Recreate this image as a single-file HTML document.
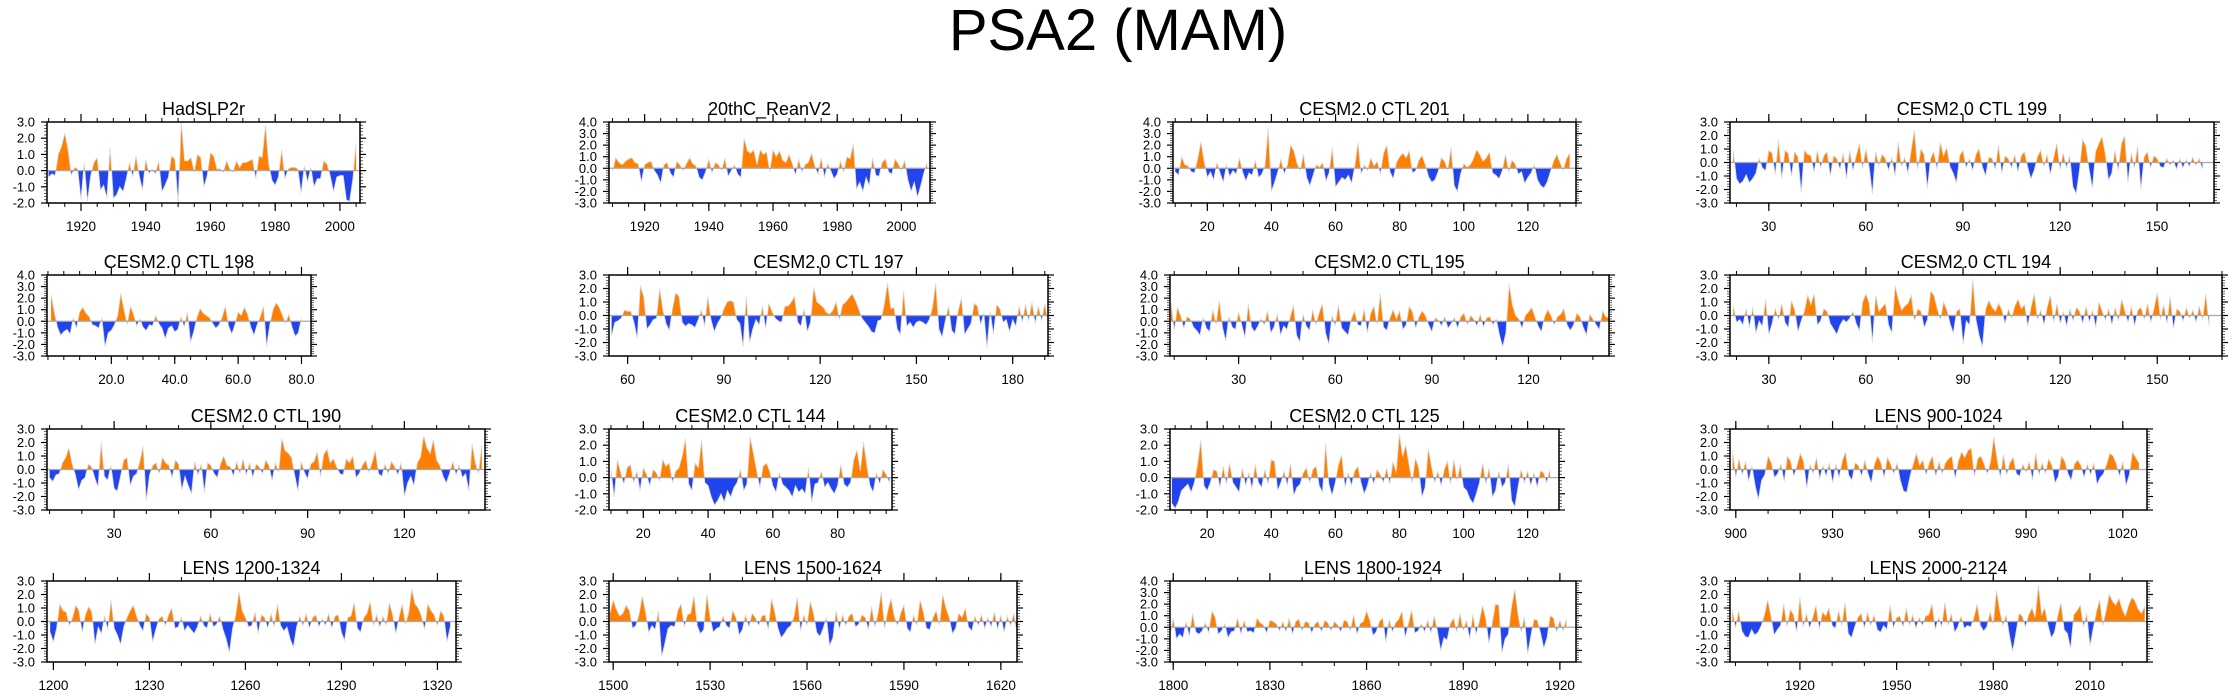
<!DOCTYPE html>
<html><head><meta charset="utf-8">
<style>
html,body{margin:0;padding:0;background:#fff;}
svg{display:block;font-family:"Liberation Sans",Arial,sans-serif;}
</style></head>
<body>
<svg id="chart" width="2237" height="698" viewBox="0 0 2237 698" xmlns="http://www.w3.org/2000/svg">
<text x="1118" y="50" font-size="58" text-anchor="middle" fill="#000">PSA2 (MAM)</text>
</svg>
<script>
// ---- data ----
const panelTitles = ["HadSLP2r","20thC_ReanV2","CESM2.0 CTL 201","CESM2.0 CTL 199","CESM2.0 CTL 198","CESM2.0 CTL 197","CESM2.0 CTL 195","CESM2.0 CTL 194","CESM2.0 CTL 190","CESM2.0 CTL 144","CESM2.0 CTL 125","LENS 900-1024","LENS 1200-1324","LENS 1500-1624","LENS 1800-1924","LENS 2000-2124"];
const startYears = [1910,1910,10,19,1,55,9,19,10,10,9,899,1199,1499,1799,1899];
const xMins = [1909.5,1908.9,9.3,18,-0.3,54.2,8.7,18,9.2,9.4,8.4,898.2,1198,1498.7,1799,1898.3];
const xMaxs = [2006.2,2008.9,135,167.6,83,191,145,170,145,96.8,129.8,1027.5,1325.8,1625,1925,2027.7];
const yMins = [-2,-3,-3,-3,-3,-3,-3,-3,-3,-2,-2,-3,-3,-3,-3,-3];
const yMaxs = [3,4,4,3,4,3,4,3,3,3,3,3,3,3,4,3];
const xTickValues = [
 [1920,1940,1960,1980,2000],[1920,1940,1960,1980,2000],[20,40,60,80,100,120],[30,60,90,120,150],
 [20,40,60,80],[60,90,120,150,180],[30,60,90,120],[30,60,90,120,150],
 [30,60,90,120],[20,40,60,80],[20,40,60,80,100,120],[900,930,960,990,1020],
 [1200,1230,1260,1290,1320],[1500,1530,1560,1590,1620],[1800,1830,1860,1890,1920],[1920,1950,1980,2010]];
const xTickLabels = [
 ["1920","1940","1960","1980","2000"],["1920","1940","1960","1980","2000"],["20","40","60","80","100","120"],["30","60","90","120","150"],
 ["20.0","40.0","60.0","80.0"],["60","90","120","150","180"],["30","60","90","120"],["30","60","90","120","150"],
 ["30","60","90","120"],["20","40","60","80"],["20","40","60","80","100","120"],["900","930","960","990","1020"],
 ["1200","1230","1260","1290","1320"],["1500","1530","1560","1590","1620"],["1800","1830","1860","1890","1920"],["1920","1950","1980","2010"]];
const xMinorSteps = [5,5,5,10,5,10,10,10,10,5,5,10,10,10,10,10];

const v0 = [-0.4,-0.2,-0.3,1.0,1.5,2.3,1.3,-0.3,0.2,0.1,-1.8,0.5,-1.9,-0.3,0.5,0.8,-1.2,-0.9,-1.7,1.4,-1.7,-1.5,-1.0,-1.3,-0.5,0.5,-0.4,0.9,-0.3,-1.2,0.7,-0.2,0.1,-0.2,0.6,-1.3,-0.9,-0.4,0.9,0.7,-2.0,3.0,0.6,0.6,0.8,-0.1,1.0,0.8,-1.0,-0.3,1.1,0.9,0.1,0.1,-0.1,0.6,0.1,-0.1,0.6,0.2,0.5,0.5,0.6,0.7,-0.5,0.9,0.8,2.8,0.4,-0.6,-0.9,-0.4,1.3,-0.5,0.1,0.2,0.2,0.1,-1.4,0.3,-0.7,0.2,-1.0,-0.5,-0.5,0.6,0.4,-0.3,-1.3,-0.4,-0.3,-0.3,-1.8,-1.9,-0.5,1.7];
const v1 = [-0.3,0.9,0.5,0.3,0.6,0.8,0.9,0.5,0.4,-1.2,0.3,0.5,0.6,-0.2,-0.6,-1.3,0.3,0.5,-0.4,-0.8,0.6,0.3,-0.2,0.4,0.9,0.4,0.2,-0.8,-1.0,-0.3,0.8,-0.4,0.5,0.3,-0.2,0.9,-0.7,-0.2,0.3,-0.5,-0.8,2.6,1.5,1.3,1.6,0.3,1.6,1.2,1.4,-0.3,1.6,1.0,1.5,0.7,0.5,1.2,0.4,-0.6,0.8,-0.3,0.3,0.5,1.3,0.2,-0.5,0.9,-0.8,0.4,-0.2,-0.9,-0.5,0.6,-0.3,1.0,0.8,2.1,-1.8,-1.2,-2.0,-0.8,-1.5,0.9,-0.6,-0.7,0.5,0.8,-0.3,-0.5,0.8,0.4,-0.2,0.7,-1.0,-2.0,-1.2,-2.5,-1.5,-0.4,0.5];
const v2 = [-0.3,-0.6,1.0,0.3,0.2,-0.3,-0.4,0.8,2.3,0.6,-0.8,-0.3,-1.0,0.5,-0.4,-1.2,0.3,-0.7,-0.2,-0.5,0.9,-0.3,-1.1,-0.4,-0.6,0.7,-0.8,-0.5,0.2,3.5,-2.0,-1.2,-0.3,0.8,-0.5,0.3,2.0,1.5,0.4,-0.2,1.2,-0.8,-1.5,-0.6,0.3,0.1,0.5,-1.1,-0.4,1.8,-1.6,-1.2,-0.8,-1.0,-0.6,-1.3,0.2,2.2,-0.5,0.3,-0.2,0.9,0.2,0.6,-0.5,1.3,2.0,-0.3,-0.9,0.5,1.0,1.3,0.9,1.5,-0.4,-0.2,0.7,1.1,0.3,-0.7,-1.2,-1.0,-0.3,0.9,0.6,-0.2,1.8,-1.5,-2.0,-0.5,0.4,0.1,0.3,0.8,1.6,1.2,0.6,0.9,1.4,-0.4,-0.6,-0.9,-0.2,1.2,-0.3,0.7,0.4,-0.5,-0.3,-1.3,-0.8,-0.4,0.3,-1.0,-1.5,-1.7,-1.2,-0.3,0.6,1.2,0.5,-0.2,0.8,1.3];
const v3 = [0.9,-1.2,-1.6,-1.4,-0.9,-1.5,-1.2,-0.8,0.3,-0.4,-0.6,0.9,0.7,-0.9,1.7,-1.2,0.9,0.7,-1.0,0.8,0.4,-2.2,0.9,0.6,0.5,-0.7,0.9,-0.4,0.5,0.8,-1.0,0.5,0.3,-0.5,0.7,-1.2,0.9,-0.6,0.5,1.4,-0.4,1.0,-0.3,-2.3,0.8,-0.2,0.6,0.3,-0.6,0.4,-1.0,1.5,-0.3,0.4,-0.8,0.9,2.4,-0.5,1.0,0.6,-1.9,0.3,0.8,-0.5,1.5,0.5,1.1,-0.3,-0.8,-1.5,0.5,0.9,-0.4,0.3,-0.6,0.6,1.0,-0.3,-1.0,0.4,0.3,-0.5,1.3,-0.8,0.5,0.3,-0.4,0.6,-0.7,0.5,0.8,-0.3,-1.2,-0.6,0.4,0.9,-0.3,0.6,-0.9,0.3,1.4,-0.5,0.7,-0.4,0.5,-1.8,-2.3,-0.6,1.7,1.2,-0.5,-1.9,0.8,1.4,1.9,0.6,-1.3,-0.8,0.9,-0.6,1.4,2.0,-1.5,0.7,-0.4,1.2,-2.0,0.4,0.8,-0.4,0.5,0.3,-0.3,-0.4,0.3,-0.2,0.2,-0.5,0.3,-0.4,0.2,-0.3,0.4,-0.2,0.3,-0.5];
const v4 = [2.3,0.8,-0.5,-1.2,-0.9,-0.7,-1.1,0.3,-0.6,0.8,1.2,0.7,0.4,-0.3,-0.4,-0.6,0.3,-2.2,-1.0,-0.8,-0.3,0.5,2.4,1.0,-0.3,1.3,0.6,-0.4,0.2,-0.5,-0.8,-0.3,-0.4,0.5,-0.2,-0.6,-1.5,-0.6,-0.4,-0.9,-0.7,0.4,-0.5,0.8,-1.8,-0.9,0.3,1.1,0.7,0.5,0.3,-0.2,-0.6,-0.3,0.4,1.3,-0.4,-1.1,-0.3,0.8,0.5,1.2,0.6,-0.5,-1.2,-0.3,0.4,1.3,-2.2,-0.3,1.0,1.6,1.2,0.5,-0.2,0.6,-0.5,-1.3,-1.0,0.3];
const v5 = [-1.5,-0.5,-0.4,-0.2,0.4,0.3,0.3,-0.5,-1.7,2.2,1.4,-1.0,-0.7,-0.3,-0.2,2.0,0.4,-0.6,-1.1,0.5,1.7,1.4,-0.5,-0.8,-0.6,-0.7,-0.9,-0.3,0.4,-0.8,1.4,-0.3,-1.2,-0.6,-0.2,0.5,1.0,1.1,1.0,-0.3,-0.6,-2.3,1.4,-2.0,-1.0,-0.3,-0.7,0.7,-1.0,0.9,0.3,-0.2,-0.4,-0.5,0.7,0.7,1.0,1.4,-0.5,-0.8,0.5,-1.2,-0.5,2.1,1.0,0.8,0.6,0.2,0.1,0.4,1.0,-0.3,0.8,1.0,1.3,1.6,1.1,0.5,-0.2,-0.5,-0.8,-1.2,-1.3,-0.4,-0.3,0.8,2.4,0.5,0.6,-1.0,-1.4,1.8,-0.8,-0.5,-0.9,-0.5,-0.4,-0.5,-0.7,-0.3,0.6,2.4,-1.0,-1.6,-0.4,0.7,-1.1,-1.4,0.3,1.3,-1.4,-1.0,-0.6,0.9,0.7,-0.7,0.2,-2.4,0.3,-1.4,0.8,0.5,-0.5,-0.3,-1.2,-0.3,-0.8,0.7,-0.5,0.8,-0.4,1.0,-0.6,0.7,-0.4,0.9,-0.5];
const v6 = [1.6,-0.8,1.2,0.5,-0.6,0.4,0.2,-0.5,-0.8,-1.2,0.3,-0.6,-0.9,1.0,-0.3,1.8,-0.5,-1.7,0.4,-0.5,-0.7,0.8,-0.3,-1.4,1.5,-0.5,-0.9,-0.4,0.2,-0.3,0.9,-1.0,-0.5,0.6,-1.2,-0.4,-0.7,0.3,1.4,-1.2,-1.8,0.6,-0.4,-0.8,1.0,-0.3,0.7,1.5,-1.0,-2.0,0.5,-0.4,1.4,-0.6,-0.9,-1.2,0.2,0.9,-0.3,-0.4,1.1,-1.0,0.7,1.3,-0.3,2.4,-0.5,-0.8,0.3,1.0,0.2,0.9,-0.7,-0.3,1.3,0.8,-0.6,0.4,0.9,0.5,-0.3,-0.9,0.3,0.1,-0.4,0.4,-0.6,-0.2,0.3,-0.6,0.4,0.7,-0.3,0.5,0.2,-0.4,0.6,-0.5,0.3,0.4,-0.3,0.2,-1.2,-2.2,-1.0,3.2,1.4,0.5,0.2,-0.6,0.5,0.8,1.2,0.4,-0.4,-0.9,0.4,1.0,0.5,-0.3,0.4,0.6,1.1,-0.3,-0.8,-0.3,0.7,0.4,-0.5,-1.2,0.6,0.2,-0.3,-0.7,0.9,0.4,0.3,-1.1];
const v7 = [0.7,-0.5,-0.3,-0.7,0.5,-0.9,0.6,-1.3,-0.4,-0.8,1.2,-1.4,-0.6,0.5,-0.3,0.9,-0.5,-0.9,1.1,0.4,-1.2,-0.4,0.3,1.5,0.8,1.6,-0.7,-0.4,0.5,0.3,-0.6,-1.0,-1.4,-0.7,-0.3,-0.5,-0.2,0.3,-0.6,-1.1,1.0,1.6,0.9,-2.0,1.5,0.3,0.6,0.9,-0.7,-1.3,2.2,1.2,0.4,0.7,0.9,1.5,-0.4,0.5,0.3,-0.9,-0.3,1.8,1.5,0.5,-0.3,1.0,0.4,-0.6,-1.3,0.3,0.5,-2.1,-0.4,-0.7,2.7,-0.3,-1.5,-2.3,0.5,1.1,0.6,0.3,0.9,0.4,-0.6,0.5,-0.2,0.7,1.2,0.5,0.8,-0.8,0.6,1.6,-0.3,0.4,-0.7,0.6,1.5,-0.5,0.9,-0.6,0.3,-0.8,0.5,-0.4,0.6,0.3,-0.6,0.7,-0.5,0.4,-0.9,1.0,0.3,-0.3,0.5,-0.7,0.6,-0.4,1.2,0.3,-0.5,0.7,-0.8,0.4,0.6,-0.3,0.9,-0.5,0.5,1.7,-0.3,0.8,-0.6,1.4,-1.0,0.5,0.3,-0.4,0.6,-0.2,0.4,-0.5,0.7,-0.3,1.6,-0.8];
const v8 = [-0.6,-0.9,-0.4,-0.3,0.5,0.9,1.6,0.4,-0.4,-1.5,-0.8,-0.6,0.4,0.2,-0.6,-1.3,2.0,-0.5,-0.8,0.3,-1.4,-1.6,-0.5,0.7,0.9,-1.2,-0.5,-0.3,0.6,1.7,-2.3,-0.4,0.3,0.5,-0.3,0.9,0.5,0.3,-0.6,0.7,0.4,-1.5,-0.5,-1.2,-1.8,0.6,-0.4,0.4,-1.7,0.5,0.3,-0.3,-0.6,0.4,1.0,0.3,0.2,-0.5,0.6,-0.3,0.8,-0.4,0.5,-0.6,0.4,0.2,-0.3,0.7,0.3,-0.8,0.5,-0.2,2.3,1.4,1.2,0.9,-0.4,-1.6,0.6,-0.2,-0.7,0.4,0.6,1.3,-0.5,1.1,1.5,0.5,0.8,0.2,-0.3,-0.4,0.8,0.5,1.0,-0.6,-0.3,0.3,0.7,-0.2,0.5,1.4,-0.3,-0.5,0.4,-0.3,0.6,0.2,-0.4,0.5,-2.0,-1.0,-0.5,-1.2,0.5,0.9,2.5,1.6,1.2,2.2,0.7,0.3,-0.5,-1.0,-0.3,0.6,-0.4,0.3,-0.6,-0.3,-1.6,1.9,0.5,-0.3,1.8];
const v9 = [0.5,-1.2,1.1,0.3,-0.4,0.6,0.8,-0.3,0.4,-0.8,0.6,0.2,-0.5,0.5,0.3,-0.2,1.1,0.7,0.9,-0.3,0.4,0.6,1.3,2.4,-0.4,-0.8,0.9,0.6,2.3,-0.3,-0.5,-1.2,-1.7,-1.4,-1.0,-1.5,-0.8,-1.2,-0.6,-0.3,0.5,-0.8,-0.4,2.5,1.5,0.4,-0.6,0.7,0.9,0.4,-0.5,-0.9,0.3,-0.4,-0.6,-0.8,-1.2,-0.5,-0.9,-0.7,-1.0,0.6,-1.5,-0.4,-0.3,0.4,-0.6,-0.3,-0.7,-1.0,-0.5,0.8,-0.4,-0.6,-0.3,1.1,1.7,0.4,2.2,0.8,-0.5,-0.9,0.3,-0.4,0.5,0.2,-0.3];
const v10 = [-1.6,-1.9,-1.5,-0.8,-0.6,-0.4,-0.9,-0.3,0.8,2.3,-0.5,-0.8,-0.3,0.5,0.4,-0.6,0.7,-0.4,0.9,-0.3,-0.6,-0.9,0.6,-0.5,0.3,-0.7,0.8,-0.3,-0.6,0.5,-0.4,1.1,1.0,-0.8,-0.3,0.4,-0.5,0.9,-1.1,-0.6,-0.4,0.3,0.6,-0.3,0.5,0.7,-0.5,-0.9,2.1,-0.4,-1.1,-0.3,0.8,1.4,-0.6,0.3,-0.5,0.4,0.7,-0.3,-1.0,-0.5,0.3,-0.4,0.5,0.2,-0.3,0.6,-0.4,1.0,0.3,2.7,1.3,2.0,0.8,-0.3,1.2,0.6,-1.2,-0.6,1.8,0.7,-0.3,0.4,-0.5,0.5,1.0,-0.4,1.1,-0.2,0.8,-0.6,-0.8,-1.3,-1.6,-1.0,-0.3,0.9,-0.4,0.6,-1.2,-0.8,0.4,-0.6,-0.3,0.8,-1.4,-1.8,-0.6,0.5,-0.3,0.4,-0.5,0.3,-0.6,0.4,0.3,-0.3,0.5];
const v11 = [1.4,-0.6,0.8,-0.4,0.6,-0.9,0.3,-1.2,-2.2,-0.8,-0.4,1.0,0.5,-0.6,-0.3,0.4,-0.9,1.0,0.6,-0.5,0.3,1.2,0.6,-1.4,0.4,-0.3,0.9,-0.7,0.3,-0.5,0.5,-1.0,0.4,-0.6,0.6,1.3,-0.4,-0.8,0.5,0.3,-0.5,0.7,-0.3,-1.0,0.4,1.0,0.5,-0.6,0.9,0.4,-0.3,0.5,-0.8,-1.6,-1.7,-0.5,0.4,1.2,0.3,0.7,-0.4,0.5,1.0,-0.5,0.6,-0.3,0.5,0.8,1.0,-0.7,0.6,1.3,0.9,1.4,1.6,-0.5,0.8,1.0,0.4,-0.3,0.6,2.4,0.8,-0.6,1.1,-0.4,0.5,0.9,-0.3,-0.5,0.4,-0.2,0.6,-0.8,1.2,-0.4,0.5,-0.3,0.8,0.3,-1.0,-0.5,1.0,0.6,-0.3,-0.8,0.4,0.7,0.3,-0.6,0.4,-0.4,0.5,-1.1,-0.6,-0.3,0.4,1.2,1.0,0.4,-0.5,0.6,-1.2,-0.4,1.3,0.9,0.5];
const v12 = [-0.8,-1.5,-0.5,1.3,0.8,0.7,-0.3,0.3,1.2,0.8,-0.8,0.5,1.1,0.7,-1.7,-0.4,-0.9,0.4,-0.6,1.6,-0.5,-1.0,-1.7,-0.4,0.3,0.8,1.2,0.4,-0.3,-0.7,0.6,0.3,-1.5,-0.6,0.2,0.4,-0.3,0.5,1.0,-0.5,-0.4,0.3,-0.7,-0.3,-0.6,-0.9,-0.4,0.4,-0.3,-0.5,0.6,-0.4,-0.2,0.4,-0.6,-1.3,-2.3,-0.5,0.5,2.2,0.8,0.3,-0.4,-0.3,0.7,-0.9,0.5,0.3,-0.5,0.6,-0.4,1.3,-0.3,-0.7,-0.4,-1.3,-1.9,-0.4,0.4,-0.3,0.6,-0.5,0.3,0.5,-0.4,0.2,-0.3,0.6,-0.5,0.4,0.5,-0.8,-1.4,0.3,0.4,1.4,-0.5,-0.8,0.3,0.6,1.5,-0.3,0.5,-0.4,0.4,-0.3,1.4,0.5,-0.9,0.3,1.3,-0.2,0.6,2.4,1.3,1.0,0.4,-0.6,1.3,0.8,0.5,-0.3,0.8,0.4,-1.5,-0.4];
const v13 = [0.6,1.6,0.9,0.4,0.6,1.2,0.8,-0.5,-0.3,0.5,1.9,0.7,-0.8,-0.3,-0.6,0.8,-2.6,-1.6,-0.5,-0.3,-0.4,0.8,1.3,-0.4,0.5,0.6,1.9,-0.3,-0.9,-0.6,2.0,0.3,-0.8,-0.5,-0.4,0.4,-0.3,-0.5,0.8,0.3,-1.0,-0.6,0.5,-0.4,0.6,0.3,-0.3,0.4,0.5,-0.6,1.7,0.7,-0.5,-1.2,-0.9,-0.5,-0.3,0.4,1.8,-0.7,0.5,-0.3,1.5,0.6,-0.8,-1.1,-0.5,0.3,-1.8,-1.2,0.8,-0.6,0.5,-0.3,0.4,0.6,-0.4,-0.2,0.5,0.3,-0.6,1.1,-0.4,0.6,2.2,-0.5,0.8,1.7,0.4,-0.3,0.6,1.2,-0.5,-0.8,0.5,-0.3,1.6,0.7,-0.5,-0.6,0.3,0.8,-0.3,2.0,1.0,0.3,-0.9,-0.5,0.6,0.3,1.0,-0.4,-0.7,0.4,-0.3,0.5,-0.5,0.3,-0.4,0.7,-0.6,0.5,-0.8,0.4,-0.3,0.6,-0.9,0.4];
const v14 = [-0.8,0.8,-1.0,-0.6,-0.9,0.5,-0.8,1.2,-0.4,-0.6,-0.3,0.4,-0.5,1.4,0.9,-0.6,-0.3,0.3,-0.9,-0.4,-0.3,0.8,-0.6,0.6,-0.4,-0.3,-0.5,0.8,0.4,0.2,-0.5,0.6,0.5,0.3,-0.3,0.5,-0.4,0.8,-0.6,0.5,0.7,-0.3,0.5,0.4,-0.5,0.3,0.5,-0.4,0.6,0.4,-0.3,0.5,0.2,-0.4,0.6,0.5,-0.3,1.1,-0.6,0.3,0.5,1.4,0.6,-0.7,-0.4,0.5,0.8,-1.3,0.7,-0.4,0.4,0.7,1.4,-0.9,0.3,1.5,-0.5,-0.3,0.3,-0.4,0.6,-0.5,1.0,-0.3,-2.0,-0.9,-1.1,0.3,0.8,-0.4,1.2,-0.3,0.6,-1.0,1.1,-0.6,0.5,1.9,0.7,-1.4,0.3,2.0,1.9,-2.2,-1.0,-0.6,1.8,3.3,1.1,-0.4,0.9,-2.3,-0.7,0.7,0.6,-0.5,-1.8,-0.9,1.0,0.8,-0.4,0.6,-0.3,0.7];
const v15 = [0.9,-0.5,0.8,-0.7,-1.1,-1.2,-0.6,-1.0,-0.8,-0.3,0.5,1.6,0.4,-1.0,-0.6,-0.3,1.3,-0.4,0.9,0.5,-0.8,1.8,-0.4,0.6,-0.5,0.3,1.2,-0.6,0.7,0.4,1.0,-0.3,-0.5,0.8,-0.3,1.4,-0.9,-1.2,-0.4,0.3,0.6,-0.5,0.7,-0.3,0.5,-0.6,-0.8,-0.3,-0.6,1.2,-0.5,0.3,0.4,-0.4,1.0,-0.3,0.5,-0.5,0.3,-0.3,0.4,0.5,1.3,-0.6,0.3,-0.4,1.4,-0.3,0.6,-0.8,-0.4,0.4,-0.5,-0.3,-0.4,0.3,1.3,-0.3,-0.7,-0.4,0.7,-0.2,2.3,0.8,-0.3,0.5,-1.0,-2.2,-0.9,0.6,0.4,-0.4,0.5,1.0,0.3,2.7,0.5,1.0,-0.3,-1.2,-0.8,0.4,1.4,-0.6,-0.9,-2.0,0.5,0.8,1.2,-0.4,0.6,-1.8,-0.5,0.7,1.6,-0.3,0.8,2.0,1.5,1.2,1.7,0.9,0.4,1.2,1.8,1.5,0.9,0.6,1.1];

const seriesValues = [v0,v1,v2,v3,v4,v5,v6,v7,v8,v9,v10,v11,v12,v13,v14,v15];

// ---- layout (pixel boxes; not data) ----
const boxLefts = [47,609,1173,1730, 47,609,1170,1730, 47,609,1170,1730, 47,609,1170,1730];
const boxRights = [360,930,1576,2214, 311,1048,1609,2222, 485,892,1559,2147, 456,1017,1576,2147];
const rowTops = [122,275,429,581];
const boxH = 81;

const NS = "http://www.w3.org/2000/svg";
const svg = document.getElementById('chart');
function mk(tag, attrs, parent){
  const e = document.createElementNS(NS, tag);
  for (const k in attrs) e.setAttribute(k, attrs[k]);
  (parent||svg).appendChild(e);
  return e;
}

for (let p = 0; p < 16; p++) {
  const L = boxLefts[p], R = boxRights[p], T = rowTops[Math.floor(p/4)], B = T + boxH;
  const xMin = xMins[p], xMax = xMaxs[p], yMin = yMins[p], yMax = yMaxs[p];
  const xs = t => L + (t - xMin) / (xMax - xMin) * (R - L);
  const ys = v => B - (v - yMin) / (yMax - yMin) * (B - T);

  const g = mk('g', {});
  
  

  const title = mk('text', {x:(L+R)/2, y:T-7, 'font-size':18, 'text-anchor':'middle', fill:'#000'}, g);
  title.textContent = panelTitles[p];
  
  

  const vals = seriesValues[p], s0 = startYears[p];
  const y0 = ys(0);
  let pts = [];
  for (let i = 0; i < vals.length; i++) {
    const t = s0 + i;
    if (t < xMin || t > xMax) continue;
    pts.push([xs(t), ys(Math.max(yMin, Math.min(yMax, vals[i])))]);
  }
  const ptStr = pts.map(q => q[0].toFixed(1) + ',' + q[1].toFixed(1)).join(' ');
  const polyStr = pts[0][0].toFixed(1) + ',' + y0 + ' ' + ptStr + ' ' + pts[pts.length-1][0].toFixed(1) + ',' + y0;
  const defs = mk('defs', {}, g);
  const cpA = mk('clipPath', {id:'ca'+p}, defs);
  mk('rect', {x:L, y:T, width:R-L, height:y0-T}, cpA);
  const cpB = mk('clipPath', {id:'cb'+p}, defs);
  mk('rect', {x:L, y:y0, width:R-L, height:B-y0}, cpB);
  const pos = mk('polygon', {points:polyStr, fill:'#ff8000', 'clip-path':'url(#ca'+p+')'}, g);
  
  
  const neg = mk('polygon', {points:polyStr, fill:'#2244ee', 'clip-path':'url(#cb'+p+')'}, g);
  
  
  const ln = mk('polyline', {points:ptStr, fill:'none', stroke:'#d8d8d8', 'stroke-width':0.8}, g);
  
  
  const zl = mk('line', {x1:L, x2:R, y1:y0, y2:y0, stroke:'#aaa', 'stroke-width':1.2}, g);
  
  

  const fr = mk('rect', {x:L, y:T, width:R-L, height:B-T, fill:'none', stroke:'#000', 'stroke-width':1.5}, g);
  
  

  const ms = xMinorSteps[p];
  for (let t = Math.ceil(xMin/ms)*ms; t <= xMax; t += ms) {
    const x = xs(t);
    mk('line', {x1:x, x2:x, y1:B, y2:B+4, stroke:'#000', 'stroke-width':1}, g);
    mk('line', {x1:x, x2:x, y1:T, y2:T-4, stroke:'#000', 'stroke-width':1}, g);
  }
  xTickValues[p].forEach((t, i) => {
    const x = xs(t);
    mk('line', {x1:x, x2:x, y1:B, y2:B+8, stroke:'#000', 'stroke-width':1.2}, g);
    mk('line', {x1:x, x2:x, y1:T, y2:T-8, stroke:'#000', 'stroke-width':1.2}, g);
    const tl = mk('text', {x:x, y:B+28, 'font-size':13.5, 'text-anchor':'middle', fill:'#000'}, g);
    tl.textContent = xTickLabels[p][i];
    
    
  });
  for (let k = Math.round(yMin*5); k <= Math.round(yMax*5); k++) {
    const v = k/5, y = ys(v), major = (k % 5 === 0);
    const len = major ? 6 : 3;
    mk('line', {x1:L-len, x2:L, y1:y, y2:y, stroke:'#000', 'stroke-width':major?1.2:0.6}, g);
    mk('line', {x1:R, x2:R+len, y1:y, y2:y, stroke:'#000', 'stroke-width':major?1.2:0.6}, g);
    if (major) {
      const yl = mk('text', {x:L-12, y:y+4.5, 'font-size':13, 'text-anchor':'end', fill:'#000'}, g);
      yl.textContent = v.toFixed(1);
      
      
    }
  }
}
</script>
</body></html>
